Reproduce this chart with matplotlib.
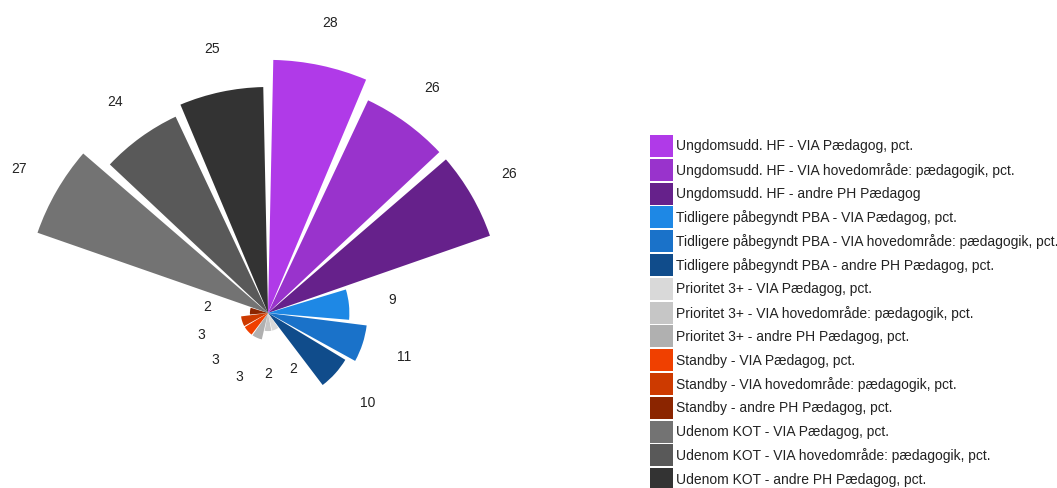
import numpy as np
import matplotlib.pyplot as plt
from matplotlib.patches import Rectangle

plt.rcParams['font.family'] = ['Liberation Sans', 'DejaVu Sans']

labels = [
    'Ungdomsudd. HF - VIA Pædagog, pct.',
    'Ungdomsudd. HF - VIA hovedområde: pædagogik, pct.',
    'Ungdomsudd. HF - andre PH Pædagog',
    'Tidligere påbegyndt PBA - VIA Pædagog, pct.',
    'Tidligere påbegyndt PBA - VIA hovedområde: pædagogik, pct.',
    'Tidligere påbegyndt PBA - andre PH Pædagog, pct.',
    'Prioritet 3+ - VIA Pædagog, pct.',
    'Prioritet 3+ - VIA hovedområde: pædagogik, pct.',
    'Prioritet 3+ - andre PH Pædagog, pct.',
    'Standby - VIA Pædagog, pct.',
    'Standby - VIA hovedområde: pædagogik, pct.',
    'Standby - andre PH Pædagog, pct.',
    'Udenom KOT - VIA Pædagog, pct.',
    'Udenom KOT - VIA hovedområde: pædagogik, pct.',
    'Udenom KOT - andre PH Pædagog, pct.',
]
values = [28, 26, 26, 9, 11, 10, 2, 2, 3, 3, 3, 2, 27, 24, 25]
colors = ['#b03ae8', '#9933cc', '#66218b',
          '#1e88e5', '#1a72c9', '#104c8b',
          '#d9d9d9', '#c6c6c6', '#b0b0b0',
          '#f04000', '#cd3a00', '#8b2500',
          '#737373', '#595959', '#333333']

W, H = 1057, 488
fig = plt.figure(figsize=(W / 100, H / 100), dpi=100)

# polar axes centred at (268, 313) px, 1 unit = 9.04 px
cx, cy, R = 268, 313, 300
ax = fig.add_axes([(cx - R) / W, (H - cy - R) / H, 2 * R / W, 2 * R / H],
                  projection='polar')
ax.set_theta_zero_location('N')
ax.set_theta_direction(-1)
ax.set_ylim(0, R / 9.04)
ax.axis('off')

n = len(values)
slot = 2 * np.pi / n
gap = np.deg2rad(2.4)
mid = np.arange(n) * slot + slot / 2
ax.bar(mid, values, width=slot - gap, align='center', color=colors,
       linewidth=0)

for t, v in zip(mid, values):
    ax.text(t, v + 4.8, str(v), ha='center', va='center',
            fontsize=10, color='#222222')

# legend drawn by hand: 23x22 px swatches, 23.8 px row pitch
x0, y0, pitch = 650, 135, 23.8
for i, (c, lab) in enumerate(zip(colors, labels)):
    top = y0 + i * pitch
    fig.patches.append(Rectangle((x0 / W, 1 - (top + 22) / H), 23 / W, 22 / H,
                                 transform=fig.transFigure, facecolor=c,
                                 edgecolor='none'))
    fig.text(676 / W, 1 - (top + 11.5) / H, lab, ha='left', va='center',
             fontsize=10, color='#222222')

fig.savefig('out.png', dpi=100)
